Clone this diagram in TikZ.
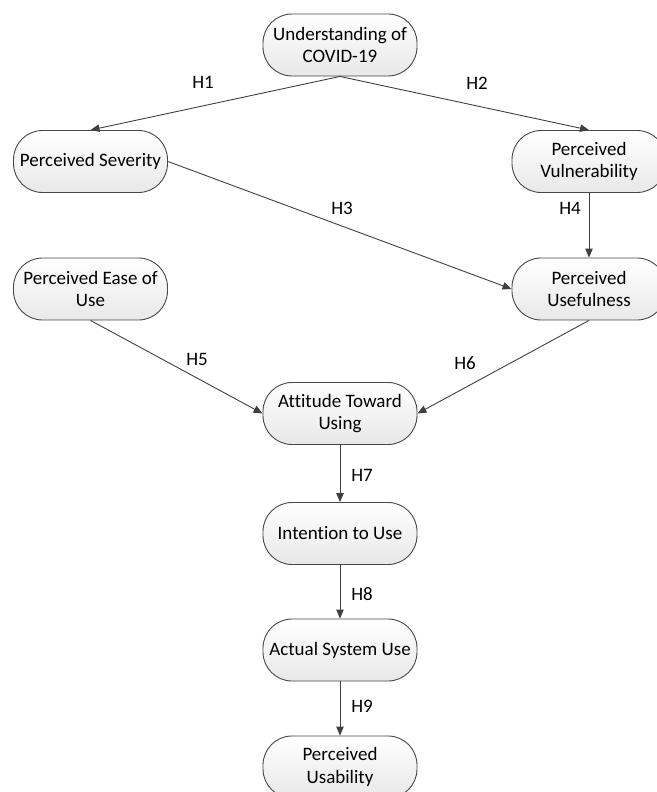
\documentclass[tikz,border=0pt]{standalone}
\usepackage{fontspec}
\setmainfont[Ligatures=NoCommon]{Carlito}
\usetikzlibrary{arrows.meta}
\begin{document}
\begin{tikzpicture}[x=1pt,y=-1pt,
  box/.style={draw=black!72, line width=0.9pt, rounded corners=29pt,
    top color=white, bottom color=black!9,
    minimum width=154pt, minimum height=62pt, inner sep=0pt,
    align=center, font=\fontsize{19}{22.6}\selectfont},
  lab/.style={font=\fontsize{19}{22.6}\selectfont, inner sep=0pt},
  link/.style={draw=black!75, line width=0.9pt,
    -{Triangle[length=9pt,width=7.5pt]}}]
\useasboundingbox (0,0) rectangle (656,792);
\node[box] (u)   at (340,45)    {Understanding of\\COVID-19};
\node[box] (sev) at (90.5,161.5) {Perceived Severity};
\node[box] (vul) at (589,161.5) {Perceived\\Vulnerability};
\node[box] (ease) at (90.5,289) {Perceived Ease of\\Use};
\node[box] (use) at (589,289)   {Perceived\\Usefulness};
\node[box] (att) at (340,413.5) {Attitude Toward\\Using};
\node[box] (int) at (340,533.5) {Intention to Use};
\node[box] (act) at (340,650)   {Actual System Use};
\node[box] (pu)  at (340,767)   {Perceived\\Usability};

\draw[link] (u.south) -- (sev.north);
\draw[link] (u.south) -- (vul.north);
\draw[link] (sev.east) -- (use.west);
\draw[link] (vul.south) -- (use.north);
\draw[link] (ease.south) -- (att.west);
\draw[link] (use.south) -- (att.east);
\draw[link] (att.south) -- (int.north);
\draw[link] (int.south) -- (act.north);
\draw[link] (act.south) -- (pu.north);

\node[lab] (h1) at (203,82)  {H1};
\node[lab] (h2) at (477,83)  {H2};
\node[lab] (h3) at (342,208) {H3};
\node[lab] (h4) at (570,208) {H4};
\node[lab] (h5) at (197,359) {H5};
\node[lab] (h6) at (465,363) {H6};
\node[lab] (h7) at (362,475) {H7};
\node[lab] (h8) at (362,594) {H8};
\node[lab] (h9) at (362,706) {H9};
\end{tikzpicture}
\end{document}
